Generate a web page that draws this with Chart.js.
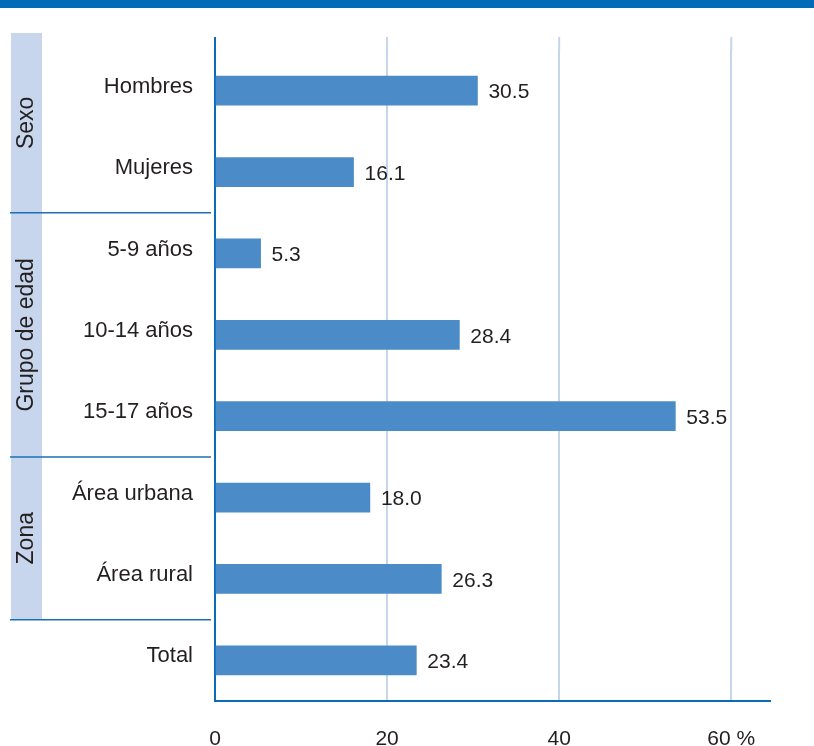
<!DOCTYPE html>
<html>
<head>
<meta charset="utf-8">
<script src="https://cdn.jsdelivr.net/npm/chart.js@4"></script>
<style>
  html, body { margin: 0; padding: 0; background: #fff; }
  #wrap { width: 814px; height: 746px; }
</style>
</head>
<body>
<div id="wrap"><canvas id="myChart" width="814" height="746"></canvas></div>
<script>
const categories = ['Hombres', 'Mujeres', '5-9 años', '10-14 años', '15-17 años', 'Área urbana', 'Área rural', 'Total'];
const values = [30.5, 16.1, 5.3, 28.4, 53.5, 18.0, 26.3, 23.4];
const xTicks = [0, 20, 40, 60];

// side groups: name, first and last category index
const groupNames = ['Sexo', 'Grupo de edad', 'Zona'];
const groupFirst = [0, 2, 5];
const groupLast = [1, 4, 6];

const FONT = '"Liberation Sans", Arial, sans-serif';
const TEXT = '#231f20';
const BLUE = '#0b6bb5';
const GRID = '#c5d5ec';

const decor = {
  id: 'decor',
  beforeDraw(chart) {
    const ctx = chart.ctx;
    const area = chart.chartArea;
    const x = chart.scales.x;
    const y = chart.scales.y;
    ctx.save();
    ctx.fillStyle = '#fff';
    ctx.fillRect(0, 0, chart.width, chart.height);
    // top band
    ctx.fillStyle = '#006cb7';
    ctx.fillRect(0, 0, chart.width, 8);
    // group box on the left
    const boxBottom = (y.getPixelForValue(groupLast[2]) + y.getPixelForValue(groupLast[2] + 1)) / 2;
    ctx.fillStyle = '#c7d6ec';
    ctx.fillRect(11, 33, 31, boxBottom - 33);
    // grid and axis run a little above the bars
    ctx.lineWidth = 2;
    xTicks.forEach(v => {
      const px = x.getPixelForValue(v);
      ctx.strokeStyle = v === 0 ? BLUE : GRID;
      ctx.beginPath();
      ctx.moveTo(px, 37);
      ctx.lineTo(px, area.top + 1);
      ctx.stroke();
    });
    ctx.restore();
  },
  afterDraw(chart) {
    const ctx = chart.ctx;
    const y = chart.scales.y;
    const meta = chart.getDatasetMeta(0);
    ctx.save();
    // separators between groups
    ctx.strokeStyle = '#1a70b6';
    ctx.lineWidth = 1.5;
    groupLast.forEach(i => {
      const py = (y.getPixelForValue(i) + y.getPixelForValue(i + 1)) / 2;
      ctx.beginPath();
      ctx.moveTo(10, py);
      ctx.lineTo(211, py);
      ctx.stroke();
    });
    // rotated group names
    ctx.fillStyle = TEXT;
    ctx.font = '23px ' + FONT;
    ctx.textAlign = 'center';
    ctx.textBaseline = 'middle';
    groupNames.forEach((name, g) => {
      const top = g === 0 ? 33 : (y.getPixelForValue(groupFirst[g] - 1) + y.getPixelForValue(groupFirst[g])) / 2;
      const bottom = (y.getPixelForValue(groupLast[g]) + y.getPixelForValue(groupLast[g] + 1)) / 2;
      ctx.save();
      ctx.translate(27, (top + bottom) / 2);
      ctx.rotate(-Math.PI / 2);
      ctx.fillText(name, 0, 0);
      ctx.restore();
    });
    // value labels after each bar
    ctx.font = '21px ' + FONT;
    ctx.textAlign = 'left';
    meta.data.forEach((bar, i) => {
      ctx.fillText(values[i].toFixed(1), bar.x + 11, bar.y + 2);
    });
    ctx.restore();
  }
};

const chart = new Chart(document.getElementById('myChart'), {
  type: 'bar',
  data: {
    labels: categories,
    datasets: [{
      data: values,
      backgroundColor: '#4a8bc8',
      barThickness: 29
    }]
  },
  options: {
    indexAxis: 'y',
    responsive: false,
    animation: false,
    devicePixelRatio: 1,
    layout: { padding: { top: 50, right: 44, left: 0, bottom: 0 } },
    plugins: { legend: { display: false }, tooltip: { enabled: false } },
    scales: {
      x: {
        type: 'linear',
        min: 0,
        max: 64.5,
        afterBuildTicks(scale) {
          scale.ticks = xTicks.map(v => ({ value: v }));
        },
        afterFit(scale) { scale.height = 45; },
        grid: { color: GRID, lineWidth: 2, drawTicks: false },
        border: { color: BLUE, width: 2 },
        ticks: {
          padding: 26,
          color: TEXT,
          font: { family: FONT, size: 21 },
          maxRotation: 0,
          autoSkip: false,
          callback: v => v === 60 ? '60 %' : v
        }
      },
      y: {
        afterFit(scale) { scale.width = 215; },
        grid: { display: false, drawTicks: false },
        border: { color: BLUE, width: 2 },
        ticks: {
          padding: 22,
          labelOffset: -4,
          color: TEXT,
          font: { family: FONT, size: 22 }
        }
      }
    }
  },
  plugins: [decor]
});
</script>
</body>
</html>
